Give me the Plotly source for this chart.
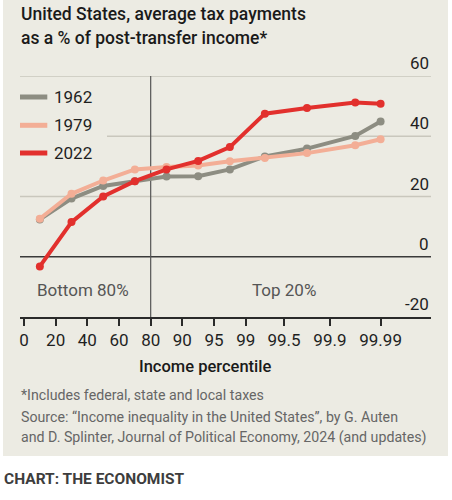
import plotly.graph_objects as go

# ---- data ----
series_names = ["1962", "1979", "2022"]
groups = ["0-20", "20-40", "40-60", "60-80", "80-90", "90-95", "95-99",
          "99-99.5", "99.5-99.9", "99.9-99.99", "99.99-100"]
tax_1962 = [12.4, 19.3, 23.5, 25.1, 26.6, 26.7, 29.0, 33.3, 35.9, 40.1, 44.9]
tax_1979 = [12.6, 20.9, 25.3, 29.0, 29.8, 30.3, 31.7, 32.8, 34.4, 37.0, 39.0]
tax_2022 = [-3.2, 11.5, 20.0, 25.1, 29.0, 31.8, 36.4, 47.5, 49.4, 51.2, 50.8]
x_tick_labels = ["0", "20", "40", "60", "80", "90", "95", "99", "99.5", "99.9", "99.99"]
y_ticks = [60, 40, 20, 0, -20]

# ---- layout config ----
tick_pos = [0, 1, 2, 3, 4, 5, 6, 7, 8.21, 9.66, 11.26]
# each group sits mid-way between its bounding ticks; the top group sits at the last tick
gx = [(tick_pos[i] + tick_pos[i + 1]) / 2 for i in range(len(tick_pos) - 1)] + [tick_pos[-1]]

colors = {"1962": "#8d8d82", "1979": "#f3ae96", "2022": "#e2302d"}
values = {"1962": tax_1962, "1979": tax_1979, "2022": tax_2022}

W_FIG, H_FIG = 452, 500
L, R, T, B = 20, 431, 75.7, 316.7
PW, PH = R - L, B - T


def PX(x):
    return (x - L) / PW


def PY(y):
    return (B - y) / PH


FONT = "Roboto"
BEIGE = "#ecebe3"

fig = go.Figure()
for name in series_names:
    fig.add_trace(go.Scatter(
        x=gx, y=values[name], mode="lines+markers", name=name,
        line=dict(color=colors[name], width=4),
        marker=dict(color=colors[name], size=8),
        showlegend=False, hoverinfo="skip"))

shapes = []
# panel background
shapes.append(dict(type="rect", xref="paper", yref="paper",
                   x0=PX(3), x1=PX(448), y0=PY(455.7), y1=PY(-5),
                   fillcolor=BEIGE, line=dict(width=0), layer="below"))
# gridlines
for v in y_ticks:
    if v == -20:
        continue
    if v == 0:
        shapes.append(dict(type="line", xref="paper", yref="y", x0=0, x1=1, y0=v, y1=v,
                           line=dict(color="#3a3a3a", width=1.6), layer="below"))
    else:
        x0 = PX(107) if v == 40 else 0
        shapes.append(dict(type="line", xref="paper", yref="y", x0=x0, x1=1, y0=v, y1=v,
                           line=dict(color="#c9c7bd", width=1.4), layer="below"))
# divider at 80th percentile
shapes.append(dict(type="line", xref="x", yref="paper", x0=tick_pos[4], x1=tick_pos[4],
                   y0=0, y1=1, line=dict(color="#555555", width=1.2), layer="below"))

annotations = []
# y tick labels above gridlines
for v in y_ticks:
    annotations.append(dict(xref="paper", yref="y", x=1, y=v, text=str(v),
                            xanchor="right", yanchor="bottom", yshift=1, showarrow=False,
                            font=dict(family=FONT, size=17, color="#1f1f1f")))
# legend
leg_y = [96.7, 125, 152.7]
for name, yy in zip(series_names, leg_y):
    shapes.append(dict(type="line", xref="paper", yref="paper", x0=PX(20), x1=PX(47.3),
                       y0=PY(yy), y1=PY(yy), line=dict(color=colors[name], width=5)))
    annotations.append(dict(xref="paper", yref="paper", x=PX(51.5), y=PY(yy), text=name,
                            xanchor="left", yanchor="middle", showarrow=False,
                            font=dict(family=FONT, size=17, color="#1f1f1f")))
# region labels
annotations.append(dict(xref="paper", yref="paper", x=PX(83), y=PY(290), text="Bottom 80%",
                        xanchor="center", yanchor="middle", showarrow=False,
                        font=dict(family=FONT, size=17, color="#555555")))
annotations.append(dict(xref="paper", yref="paper", x=PX(284), y=PY(290), text="Top 20%",
                        xanchor="center", yanchor="middle", showarrow=False,
                        font=dict(family=FONT, size=17, color="#555555")))
# title
annotations.append(dict(xref="paper", yref="paper", x=PX(19), y=PY(14), text="United States, average tax payments",
                        xanchor="left", yanchor="middle", showarrow=False,
                        font=dict(family=FONT, size=17.5, color="#1a1a1a", weight=500)))
annotations.append(dict(xref="paper", yref="paper", x=PX(19), y=PY(38), text="as a % of post-transfer income*",
                        xanchor="left", yanchor="middle", showarrow=False,
                        font=dict(family=FONT, size=17.5, color="#1a1a1a", weight=500)))
# axis title
annotations.append(dict(xref="paper", yref="paper", x=PX(204.5), y=PY(366.5), text="Income percentile",
                        xanchor="center", yanchor="middle", showarrow=False,
                        font=dict(family=FONT, size=16.5, color="#1a1a1a", weight=500)))
# footnotes
foot = ["*Includes federal, state and local taxes",
        "Source: \u201cIncome inequality in the United States\u201d, by G. Auten",
        "and D. Splinter, Journal of Political Economy, 2024 (and updates)"]
for txt, yy in zip(foot, [395, 416.5, 437]):
    annotations.append(dict(xref="paper", yref="paper", x=PX(19), y=PY(yy), text=txt,
                            xanchor="left", yanchor="middle", showarrow=False,
                            font=dict(family=FONT, size=14.2, color="#666666")))
annotations.append(dict(xref="paper", yref="paper", x=PX(2), y=PY(479), text="CHART: THE ECONOMIST",
                        xanchor="left", yanchor="middle", showarrow=False,
                        font=dict(family=FONT, size=15.5, color="#3d3d3d", weight=700)))

fig.update_layout(
    width=W_FIG, height=H_FIG,
    margin=dict(l=L, r=W_FIG - R, t=T, b=H_FIG - B, pad=0),
    paper_bgcolor="white", plot_bgcolor="rgba(0,0,0,0)",
    shapes=shapes, annotations=annotations, showlegend=False,
    xaxis=dict(range=[(L - 24) / 31.67, (R - 24) / 31.67], tickvals=tick_pos, ticktext=x_tick_labels,
               showgrid=False, zeroline=False, showline=True, linecolor="#2a2a2a", linewidth=1.6,
               ticks="outside", ticklen=7, tickwidth=1.6, tickcolor="#2a2a2a",
               tickfont=dict(family=FONT, size=17, color="#1f1f1f"), fixedrange=True),
    yaxis=dict(range=[-20, 60], showgrid=False, zeroline=False, showticklabels=False,
               showline=False, ticks="", fixedrange=True),
)

fig.write_html("out.html", config={"displayModeBar": False})
